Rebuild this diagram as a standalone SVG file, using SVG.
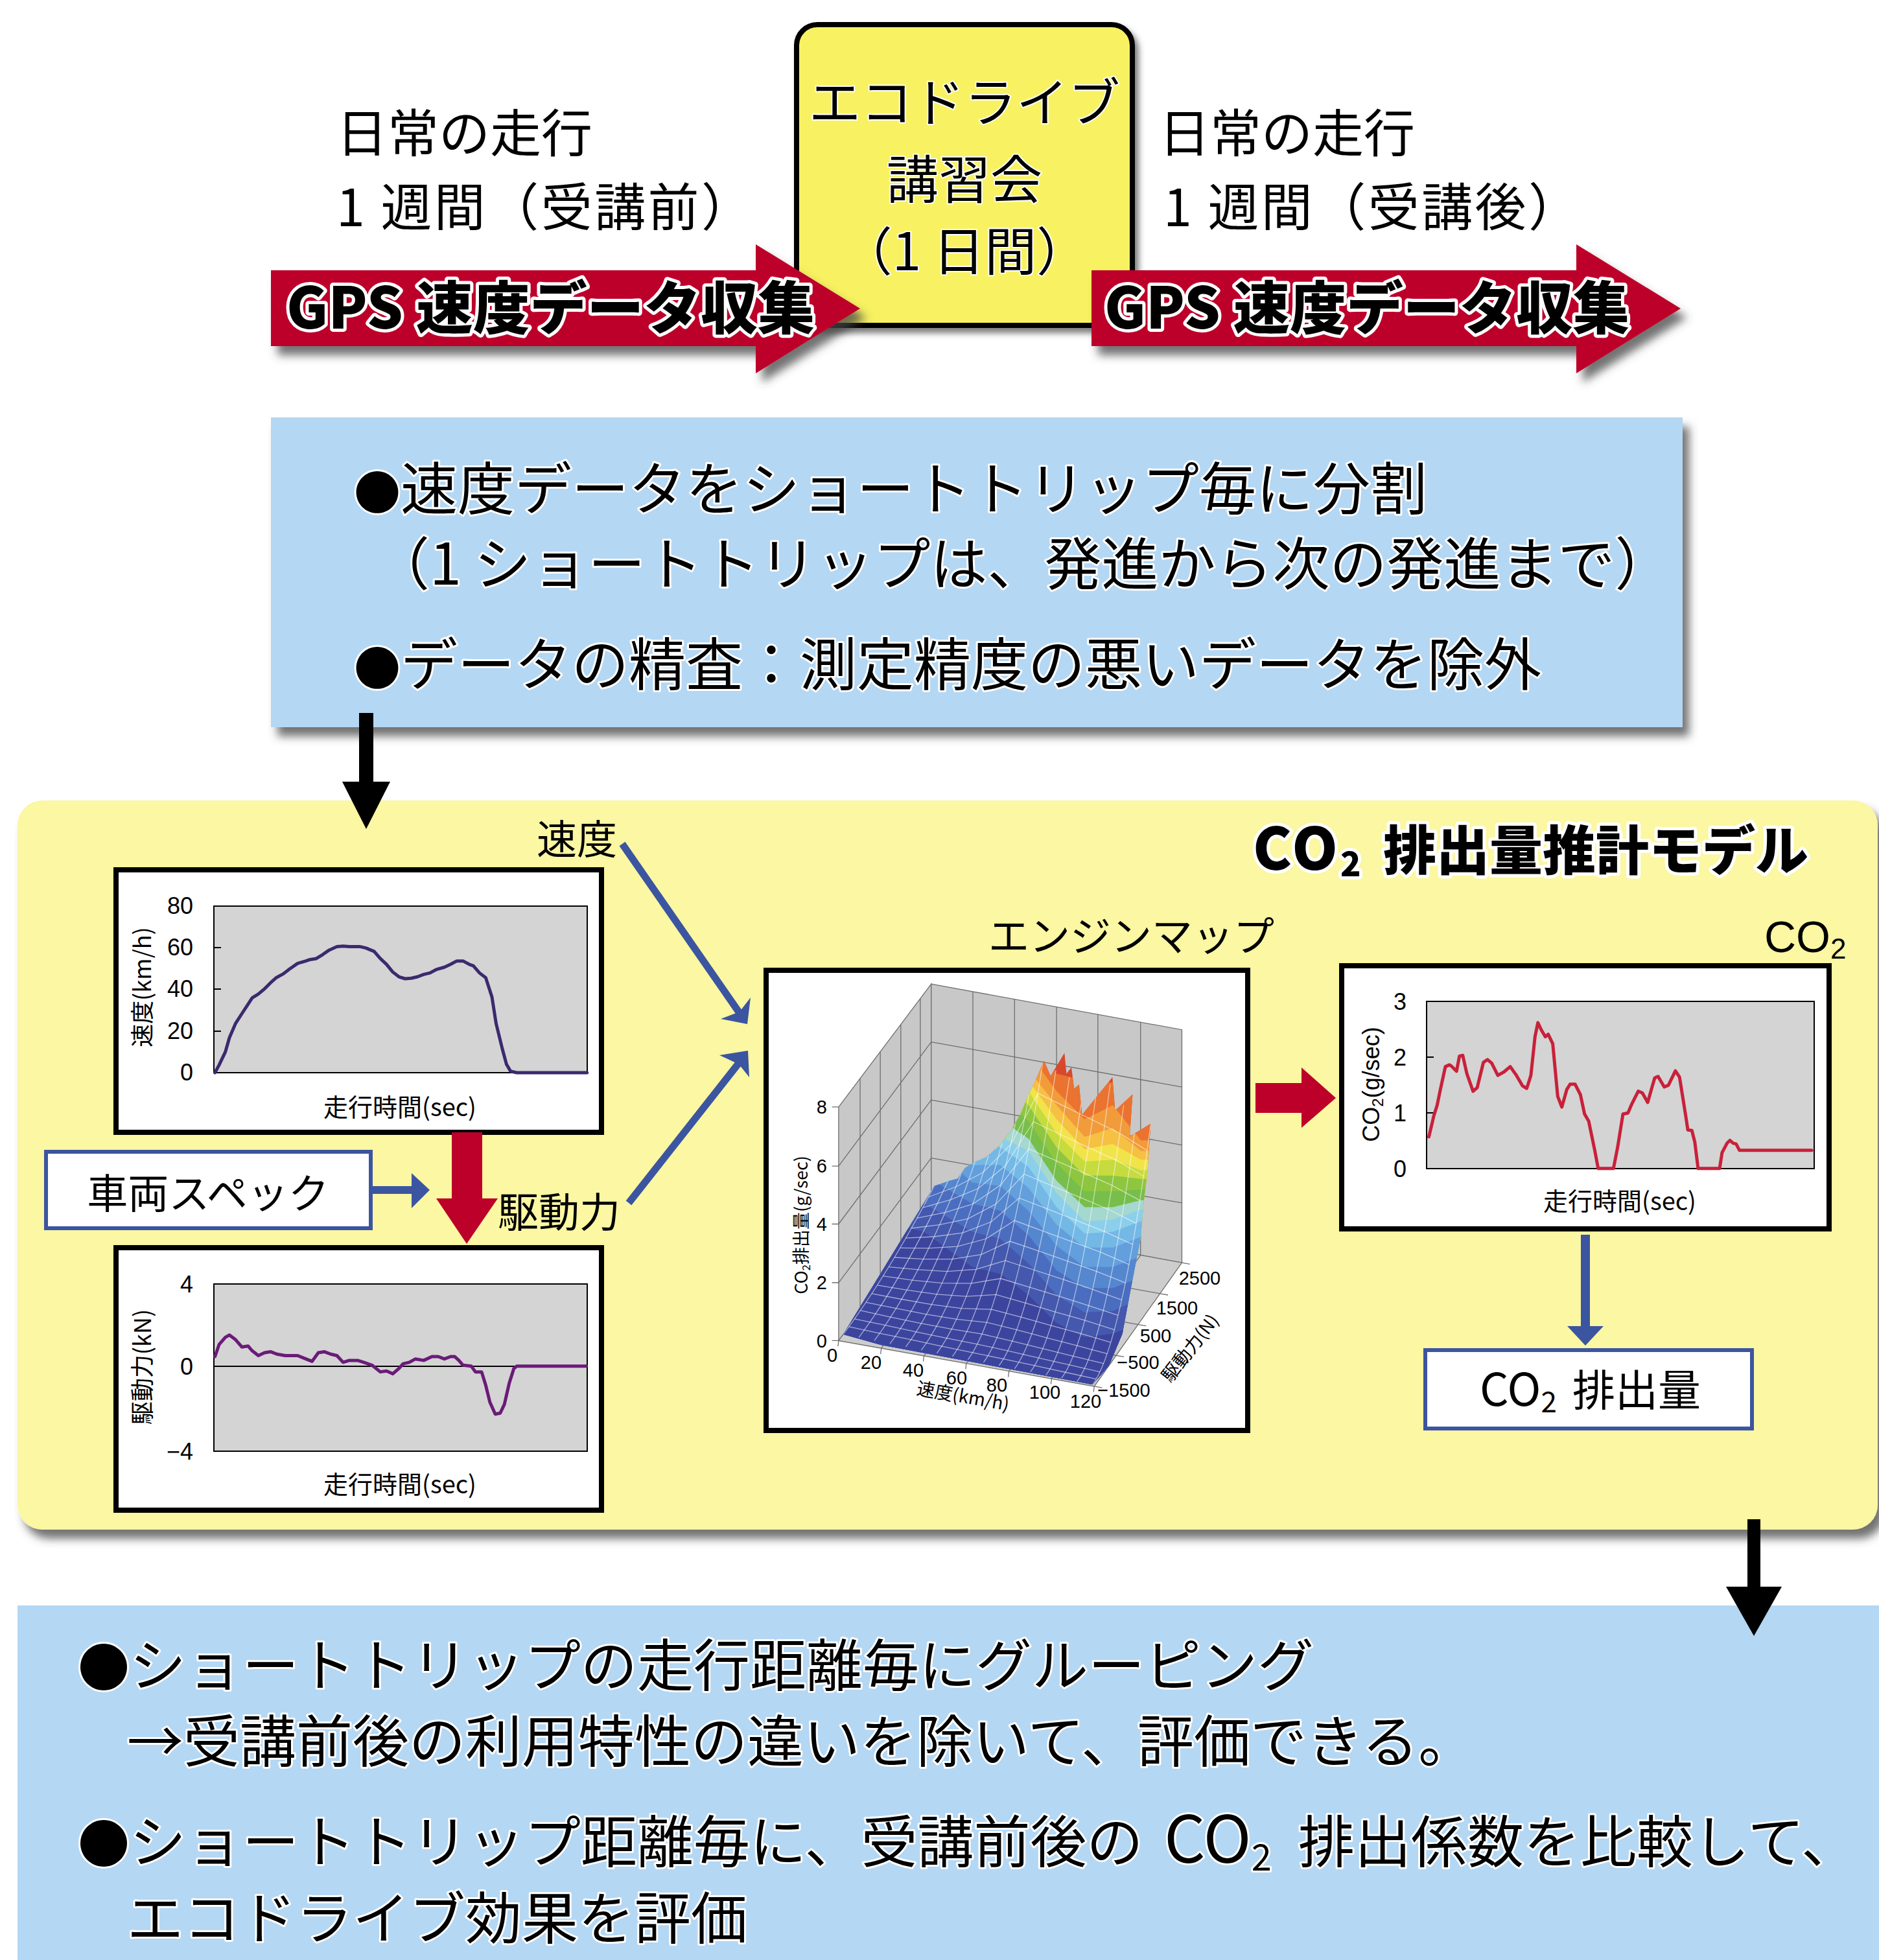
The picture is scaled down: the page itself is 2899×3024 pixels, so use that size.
<svg xmlns="http://www.w3.org/2000/svg" width="2899" height="3024" viewBox="0 0 2899 3024">
<defs>
<style>
.jp{font-family:'Noto Sans CJK JP','Noto Sans',sans-serif;}
.num{font-family:'Liberation Sans',Arial,sans-serif;}
.nar{font-family:'Liberation Sans Narrow','Liberation Sans',sans-serif;}
.ol{fill:#000;stroke:#fff;stroke-width:6;paint-order:stroke;stroke-linejoin:round;}
.olb{fill:#000;stroke:#fff;stroke-width:10;paint-order:stroke;stroke-linejoin:round;font-weight:900;}
.box{fill:#fff;stroke:#000;stroke-width:8;}
.plot{fill:#D4D4D4;stroke:#000;stroke-width:2;}
.bluebox{fill:#fff;stroke:#3C55A0;stroke-width:6;}
.wall{fill:#C8C8C8;stroke:#6E6E6E;stroke-width:1.3;vector-effect:non-scaling-stroke;}
.grid{fill:none;stroke:#6E6E6E;stroke-width:1.3;vector-effect:non-scaling-stroke;}
.mesh{fill:none;stroke:#fff;stroke-opacity:0.55;stroke-width:1.3;vector-effect:non-scaling-stroke;}
.ns{vector-effect:non-scaling-stroke;fill:none;stroke-linejoin:round;stroke-linecap:round;}
</style>
<filter id="sh" x="-5%" y="-10%" width="115%" height="140%">
<feGaussianBlur in="SourceAlpha" stdDeviation="7"/>
<feOffset dx="10" dy="14" result="o"/>
<feFlood flood-color="#444" flood-opacity="0.75"/>
<feComposite in2="o" operator="in"/>
<feMerge><feMergeNode/><feMergeNode in="SourceGraphic"/></feMerge>
</filter>
<filter id="sh2" x="-5%" y="-5%" width="110%" height="115%">
<feGaussianBlur in="SourceAlpha" stdDeviation="5"/>
<feOffset dx="6" dy="8" result="o"/>
<feFlood flood-color="#444" flood-opacity="0.7"/>
<feComposite in2="o" operator="in"/>
<feMerge><feMergeNode/><feMergeNode in="SourceGraphic"/></feMerge>
</filter>
<clipPath id="surfClip" clipPathUnits="userSpaceOnUse">
<path d="M296,1252 L571,830 L618,815 L642,809 L665,778 L691,763 L729,747 L771,713 L805,670 L831,627 L856,572 L878,529 L903,473 L923,517 L965,451 L971,510 L986,492 L994,553 L1009,541 L1018,627 L1110,520 L1118,615 L1171,569 L1162,689 L1226,652 L1215,796 L1205,870 L1195,980 L1170,1100 L1140,1250 L1100,1340 L1050,1395 L410,1282 Z"/>
</clipPath>
</defs>
<rect x="0" y="0" width="2899" height="3024" fill="#fff"/>

<!-- Top: eco-drive course -->
<g id="eco-course">
<rect x="1229" y="38" width="518" height="464" rx="32" fill="#F8F262" stroke="#000" stroke-width="8" filter="url(#sh2)"/>
<text class="jp ol" font-size="80" text-anchor="middle" style="stroke-width:4"><tspan x="1488" y="187">エコドライブ</tspan><tspan x="1488" y="306">講習会</tspan><tspan x="1488" y="417">（1 日間）</tspan></text>
</g>

<g id="gps-before">
<path d="M418,417 H1166 V377 L1327,476 L1166,576 V534 H418 Z" fill="#BD0029" filter="url(#sh)"/>
<text class="jp olb" x="442" y="507" font-size="88" textLength="815" lengthAdjust="spacingAndGlyphs">GPS 速度データ収集</text>
</g>
<g id="gps-after">
<path d="M1684,417 H2432 V377 L2593,476 L2432,576 V534 H1684 Z" fill="#BD0029" filter="url(#sh)"/>
<text class="jp olb" x="1704" y="507" font-size="88" textLength="810" lengthAdjust="spacingAndGlyphs">GPS 速度データ収集</text>
</g>

<g id="label-before" class="jp" font-size="79" fill="#000">
<text x="519" y="235">日常の走行</text>
<text x="519" y="349" textLength="642">1 週間（受講前）</text>
</g>
<g id="label-after" class="jp" font-size="79" fill="#000">
<text x="1788" y="235">日常の走行</text>
<text x="1795" y="349" textLength="642">1 週間（受講後）</text>
</g>

<!-- Upper blue box -->
<g id="split-box">
<rect x="418" y="644" width="2178" height="478" fill="#B4D7F3" filter="url(#sh)"/>
<text class="jp ol" font-size="88"><tspan x="546" y="786"><tspan font-size="72">●</tspan>速度データをショートトリップ毎に分割</tspan><tspan x="575" y="902">（1 ショートトリップは、発進から次の発進まで）</tspan></text>
<text class="jp ol" font-size="88" x="546" y="1057"><tspan font-size="72">●</tspan>データの精査：測定精度の悪いデータを除外</text>
</g>

<!-- Yellow model panel -->
<g id="model-panel">
<rect x="27" y="1235" width="2870" height="1125" rx="38" fill="#FBF7A2" filter="url(#sh)"/>
<text class="jp olb" x="1933" y="1342" font-size="90" letter-spacing="4">CO<tspan font-size="52" dy="10" letter-spacing="0">2</tspan><tspan font-size="82" dy="-10" x="2134" letter-spacing="0">排出量推計モデル</tspan></text>
</g>

<g id="label-speed"><text class="jp" x="828" y="1318" font-size="62">速度</text></g>
<g id="label-force"><text class="jp" x="768" y="1893" font-size="63">駆動力</text></g>

<!-- Speed chart -->
<g id="speed-chart">
<rect class="box" x="179" y="1342" width="749" height="405"/>
<rect class="plot" x="330" y="1398" width="576" height="257"/>
<path d="M330,1462 h11 M330,1526 h11 M330,1591 h11" stroke="#000" stroke-width="2"/>
<g class="num" font-size="36" text-anchor="end">
<text x="298" y="1410">80</text><text x="298" y="1474">60</text><text x="298" y="1538">40</text><text x="298" y="1603">20</text><text x="298" y="1667">0</text>
</g>
<text class="jp" transform="translate(233,1523) rotate(-90)" text-anchor="middle" font-size="36">速度(km/h)</text>
<text class="jp" x="617" y="1722" text-anchor="middle" font-size="38">走行時間(sec)</text>
<path class="ns" transform="translate(0,1220) scale(0.6378,0.7398)" stroke="#3B2A6E" stroke-width="5" d="M520,588 L530,572 L545,545 L555,515 L570,485 L585,465 L598,448 L610,432 L625,424 L640,413 L655,400 L668,390 L685,382 L700,372 L720,360 L740,355 L750,352 L765,350 L780,342 L795,333 L815,325 L830,324 L845,325 L870,325 L885,328 L905,335 L920,350 L935,362 L950,378 L965,388 L980,392 L995,391 L1010,388 L1025,383 L1040,380 L1055,373 L1075,368 L1090,362 L1105,355 L1120,355 L1135,362 L1145,365 L1160,380 L1175,390 L1190,430 L1200,485 L1215,538 L1225,570 L1235,585 L1250,588 L1420,588"/>
</g>

<!-- Vehicle spec -->
<g id="vehicle-spec">
<rect class="bluebox" x="71" y="1777" width="501" height="118"/>
<text class="jp" x="321" y="1864" text-anchor="middle" font-size="63">車両スペック</text>
</g>

<!-- Drive force chart -->
<g id="force-chart">
<rect class="box" x="179" y="1925" width="749" height="405"/>
<rect class="plot" x="330" y="1981" width="576" height="258"/>
<line x1="330" y1="2108" x2="906" y2="2108" stroke="#000" stroke-width="2"/>
<g class="num" font-size="36" text-anchor="end">
<text x="298" y="1994">4</text><text x="298" y="2121">0</text><text x="298" y="2252">−4</text>
</g>
<text class="jp" transform="translate(233,2109) rotate(-90)" text-anchor="middle" font-size="36">駆動力(kN)</text>
<text class="jp" x="617" y="2304" text-anchor="middle" font-size="38">走行時間(sec)</text>
<path class="ns" transform="translate(0,1220) scale(0.6378,0.7398)" stroke="#6B1B78" stroke-width="5" d="M520,1180 L530,1155 L545,1140 L555,1135 L570,1145 L585,1160 L600,1158 L610,1168 L625,1178 L640,1172 L655,1170 L670,1175 L690,1178 L720,1178 L740,1185 L755,1190 L770,1172 L785,1170 L800,1175 L815,1178 L830,1192 L845,1188 L865,1188 L880,1192 L900,1198 L920,1212 L935,1210 L950,1216 L965,1205 L975,1195 L990,1192 L1005,1185 L1025,1188 L1045,1180 L1060,1180 L1075,1185 L1090,1180 L1100,1180 L1110,1188 L1120,1198 L1140,1200 L1150,1212 L1165,1212 L1175,1240 L1185,1275 L1198,1300 L1210,1298 L1220,1280 L1232,1235 L1243,1205 L1250,1200 L1418,1200"/>
</g>

<!-- Engine map -->
<g id="engine-map">
<text class="jp" x="1525" y="1467" font-size="63">エンジンマップ</text>
<rect class="box" x="1182" y="1497" width="743" height="710"/>
<g transform="translate(1150,1380) scale(0.5102,0.5421)">
<polygon class="wall" points="282,605 562,255 562,918 282,1270"/>
<polygon class="wall" points="562,255 1320,385 1320,1048 562,918"/>
<polygon class="wall" points="282,1270 562,918 1320,1048 1055,1400" style="fill:#CDCDCD"/>
<path class="grid" d="M347,524 L347,1188 M408,448 L408,1112 M470,370 L470,1034 M529,296 L529,960 M282,773 L562,420 M282,938 L562,585 M282,1105 L562,750 M688,277 L688,940 M814,298 L814,961 M941,320 L941,983 M1066,341 L1066,1004 M1195,364 L1195,1027 M562,420 L1320,548 M562,585 L1320,713 M562,750 L1320,878 M411,1292 L688,940 M540,1313 L814,961 M668,1335 L941,983 M797,1357 L1066,1004 M926,1378 L1195,1027 M352,1182 L1121,1312 M422,1094 L1188,1224 M492,1006 L1254,1136"/>
<path class="grid" d="M262,605 H282 M262,773 H282 M262,938 H282 M262,1105 H282 M262,1270 H282 M282,1270 l-2,16 M411,1292 l-2,16 M540,1313 l-2,16 M668,1335 l-2,16 M797,1357 l-2,16 M926,1378 l-2,16 M1055,1400 l-2,16 M1055,1400 l24,4 M1121,1312 l24,4 M1188,1224 l24,4 M1254,1136 l24,4 M1320,1048 l24,4"/>
<g clip-path="url(#surfClip)">
<rect x="280" y="300" width="1060" height="1200" fill="#D9482B"/>
<path fill="#EA7330" d="M280,300 L540,300 L686,300 L771,300 L856,400 L941,510 L1026,530 L1111,535 L1196,560 L1330,560 V1500 H280 Z"/>
<path fill="#F29B3A" d="M280,300 L540,320 L686,320 L771,340 L856,450 L941,560 L1026,640 L1111,600 L1196,700 L1330,700 V1500 H280 Z"/>
<path fill="#F6C043" d="M280,300 L540,340 L686,340 L771,380 L856,500 L941,600 L1026,690 L1111,665 L1196,730 L1330,730 V1500 H280 Z"/>
<path fill="#F1E44B" d="M280,300 L540,360 L686,360 L771,420 L856,530 L941,640 L1026,725 L1111,710 L1196,755 L1330,755 V1500 H280 Z"/>
<path fill="#C6DB3E" d="M280,300 L540,380 L686,380 L771,460 L856,560 L941,680 L1026,760 L1111,755 L1196,785 L1330,785 V1500 H280 Z"/>
<path fill="#8EC640" d="M280,300 L540,400 L686,420 L771,520 L856,600 L941,720 L1026,800 L1111,800 L1196,810 L1330,810 V1500 H280 Z"/>
<path fill="#77BE4A" d="M280,300 L540,420 L686,480 L771,580 L856,645 L941,765 L1026,845 L1111,845 L1196,840 L1330,840 V1500 H280 Z"/>
<path fill="#A5D8CF" d="M280,300 L540,440 L686,540 L771,640 L856,695 L941,815 L1026,890 L1111,890 L1196,870 L1330,870 V1500 H280 Z"/>
<path fill="#8CCFEA" d="M280,300 L540,460 L686,620 L771,690 L856,730 L941,850 L1026,930 L1111,925 L1196,897 L1330,897 V1500 H280 Z"/>
<path fill="#74B8E6" d="M280,300 L540,480 L686,700 L771,720 L856,775 L941,890 L1026,965 L1111,960 L1196,930 L1330,930 V1500 H280 Z"/>
<path fill="#629FDC" d="M280,300 L540,560 L686,770 L771,770 L856,835 L941,940 L1026,1005 L1111,1005 L1196,975 L1330,975 V1500 H280 Z"/>
<path fill="#5587CF" d="M280,600 L540,700 L686,820 L771,830 L856,900 L941,1000 L1026,1060 L1111,1060 L1196,1030 L1330,1030 V1500 H280 Z"/>
<path fill="#4B6DBF" d="M280,700 L540,800 L686,880 L771,900 L856,970 L941,1070 L1026,1120 L1111,1120 L1196,1090 L1330,1090 V1500 H280 Z"/>
<path fill="#4458AE" d="M280,800 L540,880 L686,960 L771,980 L856,1050 L941,1140 L1026,1190 L1111,1185 L1196,1150 L1330,1150 V1500 H280 Z"/>
<path fill="#3C459E" d="M280,900 L540,960 L686,1060 L771,1080 L856,1140 L941,1220 L1026,1260 L1111,1250 L1196,1220 L1330,1220 V1500 H280 Z"/>
<path class="mesh" d="M296,1252 Q433.5,1079 571,830 M343,1261 Q477.5,1092 612,817 M390,1270 Q521.5,1105 653,794 M437,1279 Q565.5,1117.5 694,762 M485,1288 Q610,1131 735,744 M532,1297 Q654,1143.6 776,707 M579,1306 Q698,1156 817,650 M626,1315 Q742,1169 858,568 M673,1324 Q786,1182 899,480 M720,1332 Q829.5,1194 939,500 M767,1341 Q873.5,1207 980,520 M814,1350 Q917.5,1220 1021,560 M862,1359 Q962,1233 1062,560 M909,1368 Q1006,1246 1103,540 M956,1377 Q1050,1259 1144,600 M1003,1386 Q1094,1272 1185,620 M1050,1395 Q1138,1284 1226,652"/>
<path class="mesh" d="M313,1230 L406,1249 L501,1267 L594,1286 L687,1304 L780,1322 L875,1341 L968,1360 L1061,1379
M330,1208 L423,1226 L516,1245 L609,1263 L701,1280 L794,1299 L887,1319 L980,1339 L1072,1359
M348,1184 L439,1203 L532,1221 L624,1237 L715,1251 L807,1271 L900,1293 L991,1314 L1083,1335
M365,1161 L456,1178 L548,1195 L639,1209 L730,1218 L820,1239 L912,1262 L1003,1284 L1094,1307
M382,1136 L472,1152 L563,1167 L653,1178 L744,1181 L834,1203 L925,1227 L1015,1250 L1105,1275
M399,1112 L489,1126 L579,1138 L668,1144 L758,1139 L847,1163 L937,1188 L1027,1212 L1116,1239
M416,1086 L505,1098 L594,1106 L683,1107 L772,1093 L860,1118 L950,1144 L1038,1170 L1127,1198
M434,1060 L522,1068 L610,1073 L698,1067 L786,1042 L874,1069 L962,1096 L1050,1124 L1138,1154
M451,1033 L538,1038 L626,1038 L713,1025 L800,987 L887,1015 L975,1044 L1062,1073 L1149,1105
M468,1006 L554,1007 L641,1002 L728,980 L814,928 L900,958 L987,988 L1074,1018 L1160,1053
M485,978 L571,974 L657,963 L743,932 L828,864 L913,895 L1000,927 L1085,959 L1171,996
M502,950 L587,940 L673,923 L758,881 L843,796 L927,829 L1012,862 L1097,896 L1182,936
M519,921 L604,905 L688,881 L772,827 L857,724 L940,758 L1025,793 L1109,828 L1193,871
M537,891 L620,869 L704,837 L787,771 L871,647 L953,683 L1037,720 L1121,756 L1204,802
M554,861 L637,832 L719,791 L802,712 L885,566 L967,604 L1050,642 L1132,680 L1215,729"/>
</g>
</g>
<g class="num" font-size="29" fill="#000">
<g text-anchor="end">
<text x="1276" y="1718">8</text><text x="1276" y="1809">6</text><text x="1276" y="1899">4</text><text x="1276" y="1989">2</text><text x="1276" y="2079">0</text>
</g>
<g text-anchor="middle">
<text x="1284" y="2101">0</text><text x="1344" y="2112">20</text><text x="1409" y="2124">40</text><text x="1476" y="2136">60</text><text x="1538" y="2147">80</text><text x="1612" y="2158">100</text><text x="1675" y="2172">120</text>
<text x="1851" y="1982">2500</text><text x="1816" y="2028">1500</text><text x="1783" y="2071">500</text><text x="1756" y="2112">−500</text><text x="1734" y="2155">−1500</text>
</g>
</g>
<text class="jp" transform="translate(1246,1890) rotate(-90)" text-anchor="middle" font-size="27">CO<tspan font-size="17" dy="4">2</tspan><tspan dy="-4">排出量(g/sec)</tspan></text>
<text class="jp" transform="translate(1484,2164) rotate(10)" text-anchor="middle" font-size="28">速度(km/h)</text>
<text class="jp" transform="translate(1844,2086) rotate(-52)" text-anchor="middle" font-size="28">駆動力(N)</text>
</g>

<!-- CO2 chart -->
<g id="co2-chart">
<text class="num" x="2722" y="1469" font-size="68">CO<tspan font-size="44" dy="10">2</tspan></text>
<rect class="box" x="2070" y="1490" width="752" height="406"/>
<rect class="plot" x="2201" y="1545" width="598" height="258"/>
<path d="M2201,1631 h11 M2201,1717 h11" stroke="#000" stroke-width="2"/>
<g class="nar" font-size="36" text-anchor="middle">
<text x="2160" y="1558">3</text><text x="2160" y="1644">2</text><text x="2160" y="1730">1</text><text x="2160" y="1816">0</text>
</g>
<text class="num" transform="translate(2128,1673) rotate(-90)" text-anchor="middle" font-size="36">CO<tspan font-size="24" dy="6">2</tspan><tspan dy="-6">(g/sec)</tspan></text>
<text class="jp" x="2499" y="1867" text-anchor="middle" font-size="38">走行時間(sec)</text>
<path class="ns" transform="translate(1900,1380) scale(0.6371,0.5421)" stroke="#C8213A" stroke-width="5" d="M478,690 L490,630 L498,600 L505,560 L518,490 L528,485 L532,488 L545,503 L552,460 L560,458 L570,510 L585,560 L595,550 L610,478 L620,470 L630,480 L645,515 L660,505 L675,490 L690,515 L705,545 L715,552 L725,515 L735,405 L742,365 L750,385 L760,405 L767,398 L778,425 L790,575 L800,605 L812,555 L820,540 L832,540 L845,570 L855,625 L865,645 L880,730 L888,780 L925,780 L935,720 L948,625 L960,622 L970,595 L985,560 L995,565 L1008,592 L1018,550 L1025,522 L1033,518 L1048,548 L1058,543 L1075,502 L1085,520 L1100,630 L1105,670 L1115,672 L1122,705 L1130,780 L1182,780 L1188,735 L1200,708 L1207,700 L1215,708 L1222,710 L1230,728 L1405,728"/>
</g>

<!-- CO2 emission box -->
<g id="co2-emission">
<rect class="bluebox" x="2199" y="2083" width="504" height="121"/>
<text class="jp" x="2283" y="2169" font-size="70">CO<tspan font-size="44" dy="10">2</tspan><tspan dy="-10" x="2426" font-size="66">排出量</tspan></text>
</g>

<!-- Bottom blue panel -->
<g id="evaluation-box">
<rect x="27" y="2477" width="2872" height="547" fill="#B4D7F3"/>
<text class="jp ol" font-size="87"><tspan x="120" y="2602"><tspan font-size="80">●</tspan>ショートトリップの走行距離毎にグルーピング</tspan><tspan x="196" y="2719">→受講前後の利用特性の違いを除いて、評価できる。</tspan></text>
<text class="jp ol" font-size="87"><tspan x="120" y="2874"><tspan font-size="80">●</tspan>ショートトリップ距離毎に、受講前後の</tspan><tspan x="1796" y="2874" font-size="100">CO</tspan><tspan font-size="56" y="2886">2</tspan><tspan x="2003" y="2874">排出係数を比較して、</tspan><tspan x="196" y="2992">エコドライブ効果を評価</tspan></text>
</g>

<!-- Connectors -->
<g id="connectors">
<line x1="565" y1="1100" x2="565" y2="1212" stroke="#000" stroke-width="22"/>
<polygon points="528,1206 602,1206 565,1279" fill="#000"/>
<line x1="960" y1="1302" x2="1141" y2="1563" stroke="#3C55A0" stroke-width="11"/>
<polygon points="1153,1580 1112,1572 1141,1561 1158,1539" fill="#3C55A0"/>
<line x1="970" y1="1856" x2="1140" y2="1640" stroke="#3C55A0" stroke-width="11"/>
<polygon points="1154,1621 1110,1628 1140,1642 1156,1662" fill="#3C55A0"/>
<line x1="574" y1="1836" x2="640" y2="1836" stroke="#3C55A0" stroke-width="12"/>
<polygon points="635,1810 663,1836 635,1864" fill="#3C55A0"/>
<polygon points="697,1747 744,1747 744,1849 768,1849 720,1919 673,1849 697,1849" fill="#BD0029"/>
<polygon points="1937,1671 2008,1671 2008,1647 2061,1694 2008,1740 2008,1717 1937,1717" fill="#BD0029"/>
<line x1="2446" y1="1905" x2="2446" y2="2050" stroke="#3C55A0" stroke-width="14"/>
<polygon points="2418,2046 2474,2046 2446,2076" fill="#3C55A0"/>
<line x1="2706" y1="2344" x2="2706" y2="2452" stroke="#000" stroke-width="20"/>
<polygon points="2663,2448 2749,2448 2706,2524" fill="#000"/>
</g>
</svg>
